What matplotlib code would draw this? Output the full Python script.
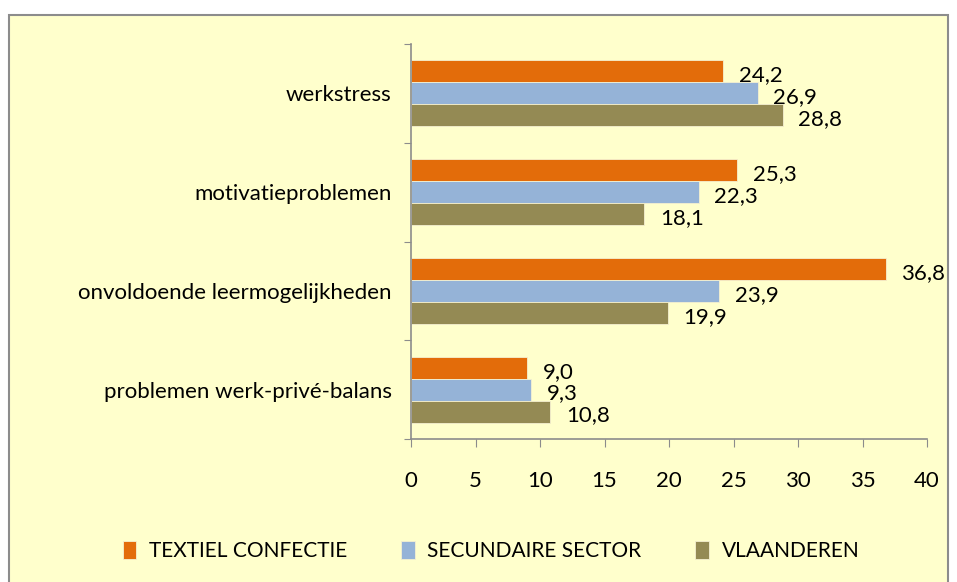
import matplotlib.pyplot as plt
from matplotlib.patches import Rectangle
import numpy as np

categories = ['werkstress', 'motivatieproblemen',
              'onvoldoende leermogelijkheden', 'problemen werk-privé-balans']
series = ['TEXTIEL CONFECTIE', 'SECUNDAIRE SECTOR', 'VLAANDEREN']
textiel = [24.2, 25.3, 36.8, 9.0]
secundair = [26.9, 22.3, 23.9, 9.3]
vlaanderen = [28.8, 18.1, 19.9, 10.8]
colors = ['#E36C0A', '#95B3D7', '#948A54']

plt.rcParams['font.family'] = ['Lato', 'DejaVu Sans']

fig = plt.figure(figsize=(9.57, 5.82), dpi=100)
fig.patches.append(Rectangle((9 / 957, -0.05), 939 / 957, 1.05 - 15 / 582,
                             transform=fig.transFigure, facecolor='#FFFFCC',
                             edgecolor='#8C8C8C', linewidth=1.5, zorder=-10))

ax = fig.add_axes([411 / 957, 1 - 439 / 582, 516 / 957, 395 / 582])
ax.set_facecolor('none')

n = len(categories)
y = np.arange(n)
h = 0.222
for i, (vals, col) in enumerate(zip([textiel, secundair, vlaanderen], colors)):
    pos = y + (i - 1) * h
    ax.barh(pos, vals, height=h, color=col, edgecolor='#F5F0D0', linewidth=0.6,
            label=series[i])
    for p, v in zip(pos, vals):
        ax.text(v + 1.2, p + 0.04, f'{v:.1f}'.replace('.', ','), va='center',
                ha='left', fontsize=16)

ax.set_xlim(0, 40)
ax.set_ylim(n - 0.5, -0.5)
ax.set_xticks(range(0, 41, 5))
ax.tick_params(axis='x', labelsize=16, length=6, color='#8C8C8C', pad=17)

ax.set_yticks(np.arange(-0.5, n, 1.0))
ax.set_yticklabels([])
ax.tick_params(axis='y', length=5, color='#8C8C8C')
ax.set_yticks(y, minor=True)
ax.set_yticklabels(categories, minor=True)
ax.tick_params(axis='y', which='minor', length=0, pad=14, labelsize=16)

for s in ['top', 'right']:
    ax.spines[s].set_visible(False)
for s in ['left', 'bottom']:
    ax.spines[s].set_color('#8C8C8C')
    ax.spines[s].set_linewidth(1.2)

fig.legend(loc='center', bbox_to_anchor=(0.513, 1 - 551 / 582), ncol=3,
           frameon=False, fontsize=15, handlelength=0.65, handleheight=1.0,
           handletextpad=0.6, columnspacing=2.6)

fig.savefig('out.png', dpi=100)
